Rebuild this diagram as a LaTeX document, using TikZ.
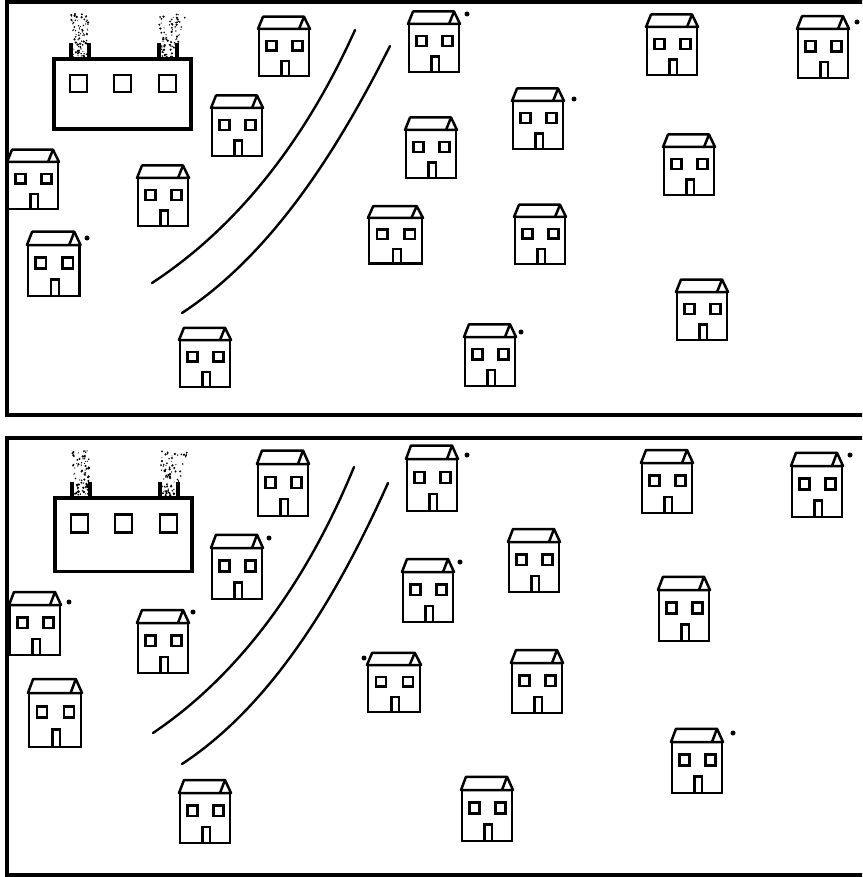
\documentclass[tikz,border=0pt]{standalone}
\usepackage{tikz}

\pgfmathsetseed{4211}

\tikzset{
  house/.pic={
    \draw (0,0) rectangle (50,48);
    \draw[line join=round] (-1,0) -- (4,-12.5) -- (45,-12.5) -- (51,0) -- cycle;
    \draw (45,-12.5) -- (40,0);
    \draw (7.5,12) rectangle (17.5,22);
    \draw (33.5,12) rectangle (43.5,22);
    \draw (22.5,48) -- (22.5,32.5) -- (30,32.5) -- (30,48);
  },
  factory/.pic={
    \draw[line width=3.4pt] (0,0) rectangle (137,70);
    \foreach \wx in {16,60,105}
      \draw[line width=2.8pt] (\wx,16) rectangle ++(17,17);
    \foreach \cx in {17,105}
      \draw[line width=3.4pt] (\cx,0) -- ++(0,-15.5) ++(18,0) -- ++(0,15.5);
    % smoke puffs out of both chimneys
    \foreach \cx/\sp/\sk in {26/0.1/0, 114/0.3/0.1}{
      \foreach \k in {1,...,85}{
        \pgfmathsetmacro{\sy}{-45*rnd}
        \pgfmathsetmacro{\sx}{\cx+(rnd-0.5)*(14-\sp*\sy)-\sk*\sy}
        \pgfmathsetmacro{\sr}{0.5+0.8*rnd}
        \fill (\sx,\sy) circle (\sr);
      }
    }
  }
}

\begin{document}
\begin{tikzpicture}[x=1pt, y=-1pt, line width=2.5pt,
    frame/.style={line width=4.5pt},
    road/.style={line width=2.4pt, line cap=round}]
  \clip (0,0) rectangle (862,877);

  %% upper panel
  \draw[frame] (7,2) rectangle (870,415);
  \pic at (54,59) {factory};
  \draw[road] (152,283) .. controls (245,222) and (310,130) .. (355,30);
  \draw[road] (182,313) .. controls (275,252) and (340,145) .. (390,46);
  \foreach \hx/\hy/\hsx/\hsy in {
      259/29/1/0.98, 409/24/1/1, 647/27/1/1, 798/29/1/1.02,
      212/108/1/1, 513/101/1/1, 406/130/1/1, 664/147/1/1,
      8/162/1/0.98, 138/178/1/1, 28/245/1.03/1.06, 369/218/1.06/0.95,
      515/217/1/0.98, 677/292/1/1, 180/340/1/0.98, 465/337/1/1.02}
    \pic[xscale=\hsx, yscale=\hsy] at (\hx,\hy) {house};
  \foreach \dx/\dy in {467/14, 857/22, 574/99, 87/238, 521/332}
    \fill (\dx,\dy) circle (2.5);

  %% lower panel
  \draw[frame] (7,438) rectangle (870,875);
  \pic[yscale=1.05] at (55,498) {factory};
  \draw[road] (153,733) .. controls (245,671) and (310,574) .. (354,467);
  \draw[road] (182,764) .. controls (275,703) and (340,590) .. (388,483);
  \foreach \hx/\hy/\hsx/\hsy in {
      258/464/1/1.08, 407/459/1/1.08, 642/463/1/1.04, 792/466/1/1.06,
      212/548/1/1.06, 509/542/1/1.04, 403/572/1/1.04, 659/590/1/1.06,
      10/605/1/1.04, 138/623/1/1.04, 29/693/1.04/1.12, 368/665/1.04/0.98,
      512/663/1/1.04, 672/742/1/1.06, 180/793/1/1.04, 462/790/1/1.06}
    \pic[xscale=\hsx, yscale=\hsy] at (\hx,\hy) {house};
  \foreach \dx/\dy in {467/455, 850/455, 269/538, 460/562, 69/602,
      193/612, 364/658, 733/733}
    \fill (\dx,\dy) circle (2.5);
\end{tikzpicture}
\end{document}
